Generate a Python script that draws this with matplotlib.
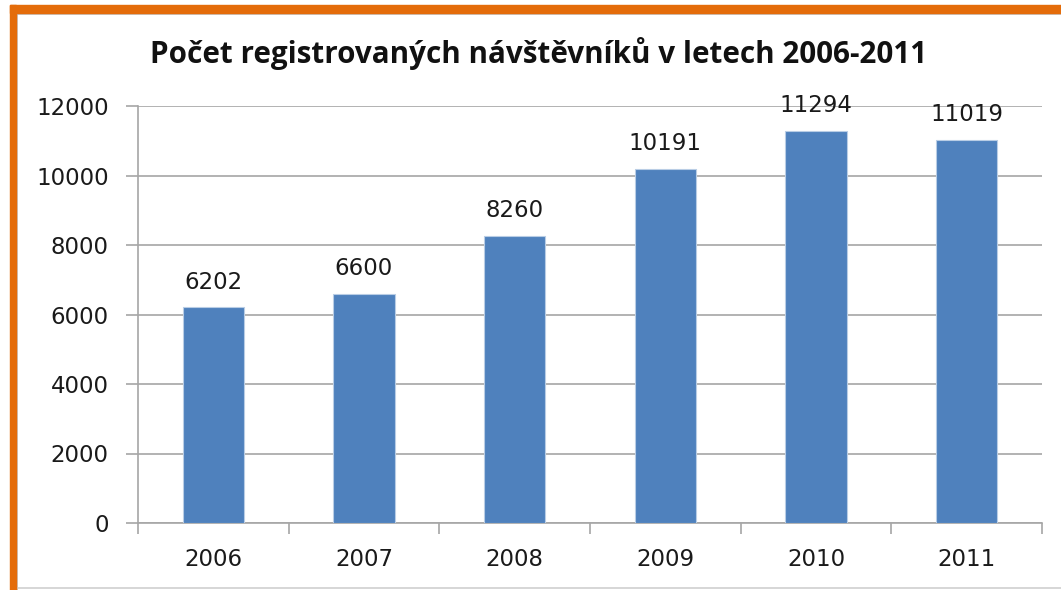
import matplotlib.pyplot as plt
from matplotlib.patches import Rectangle

years = ['2006', '2007', '2008', '2009', '2010', '2011']
visitors = [6202, 6600, 8260, 10191, 11294, 11019]
y_ticks = [0, 2000, 4000, 6000, 8000, 10000, 12000]

plt.rcParams['font.family'] = ['DejaVu Sans']

W, H = 1061, 590
fig = plt.figure(figsize=(W / 100, H / 100), dpi=100)
fig.patch.set_facecolor('white')

# plot area in pixels: x 138..1042, y 106..523
ax = fig.add_axes([138 / W, 1 - 523 / H, (1042 - 138) / W, (523 - 106) / H])

x = range(len(years))
ax.bar(x, visitors, width=0.405, color='#4F81BD', edgecolor='#B9CDE5',
       linewidth=0.8, zorder=3)
for xi, v in zip(x, visitors):
    ax.annotate(str(v), (xi, v), xytext=(0, 13.5), textcoords='offset points',
                ha='center', va='baseline', fontsize=16.5, color='#1a1a1a', zorder=4)

ax.set_xlim(-0.5, len(years) - 0.5)
ax.set_ylim(0, 12000)
ax.set_yticks(y_ticks)
ax.set_yticklabels([str(t) for t in y_ticks], fontsize=16.5, color='#1a1a1a')
ax.set_xticks(list(x))
ax.set_xticklabels(years, fontsize=16.5, color='#1a1a1a')
ax.grid(axis='y', color='#A6A6A6', linewidth=1.2, zorder=0)
ax.set_axisbelow(True)

for s in ['top', 'right']:
    ax.spines[s].set_visible(False)
for s in ['left', 'bottom']:
    ax.spines[s].set_color('#A6A6A6')
    ax.spines[s].set_linewidth(1.2)

ax.tick_params(axis='y', length=9, width=1.2, color='#A6A6A6', pad=12)
ax.tick_params(axis='x', length=0, pad=18)
# category boundary ticks
ax.set_xticks([i - 0.5 for i in range(len(years) + 1)], minor=True)
ax.tick_params(axis='x', which='minor', length=8, width=1.2, color='#A6A6A6')

fig.text(539 / W, 1 - 54 / H, 'Počet registrovaných návštěvníků v letech 2006-2011',
         ha='center', va='center', fontsize=21.3, fontweight='bold', color='#111111',
         family='Open Sans')

# orange frame and inner gray border
orange = '#E46C0A'
fig.patches.append(Rectangle((10 / W, 0), 6 / W, 1 - 5 / H, transform=fig.transFigure,
                             color=orange, zorder=10))
fig.patches.append(Rectangle((10 / W, 1 - 13 / H), 1 - 10 / W, 8 / H,
                             transform=fig.transFigure, color=orange, zorder=10))
fig.add_artist(plt.Line2D([17 / W, 17 / W], [0, 1 - 14 / H], color='#BFBFBF', lw=1.2))
fig.add_artist(plt.Line2D([17 / W, 1], [1 - 14 / H, 1 - 14 / H], color='#BFBFBF', lw=1.2))
fig.add_artist(plt.Line2D([17 / W, 1], [1 - 588 / H, 1 - 588 / H], color='#D0D0D0', lw=1.2))

fig.savefig('out.png', dpi=100)
